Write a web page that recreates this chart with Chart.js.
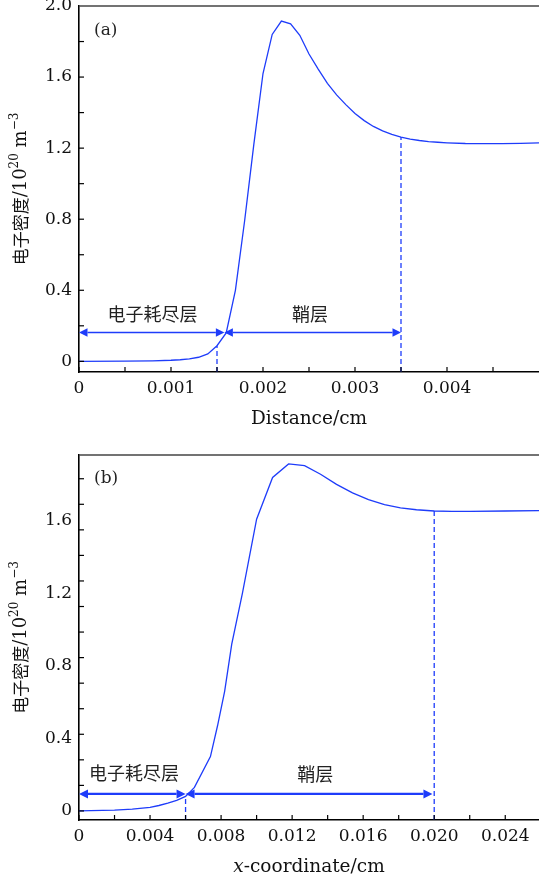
<!DOCTYPE html>
<html>
<head>
<meta charset="utf-8">
<script src="https://cdn.jsdelivr.net/npm/chart.js@4.4.1/dist/chart.umd.min.js"></script>
<style>
  body { margin: 0; background: #fff; }
  canvas { display: block; }
</style>
</head>
<body>
<canvas id="chartA" width="539" height="440"></canvas>
<canvas id="chartB" width="539" height="439"></canvas>
<script>
// (a) electron density vs Distance
const distA = [0, 0.0005, 0.0008, 0.001, 0.0011, 0.0012, 0.0013, 0.0014, 0.0015, 0.0016, 0.0017, 0.0018, 0.0019,
  0.002, 0.0021, 0.0022, 0.0023, 0.0024, 0.0025, 0.0026, 0.0027, 0.0028, 0.0029, 0.003, 0.0031, 0.0032, 0.0033,
  0.0034, 0.0035, 0.0036, 0.0037, 0.0038, 0.0039, 0.004, 0.0042, 0.0044, 0.0046, 0.0048, 0.005];
const densA = [0, 0.001, 0.003, 0.006, 0.009, 0.014, 0.023, 0.042, 0.088, 0.16, 0.40, 0.79, 1.22,
  1.62, 1.84, 1.915, 1.90, 1.835, 1.73, 1.645, 1.565, 1.50, 1.445, 1.395, 1.355, 1.322, 1.297,
  1.277, 1.262, 1.251, 1.243, 1.237, 1.233, 1.23, 1.226, 1.225, 1.225, 1.227, 1.23];
const xTicksA = [0, 0.001, 0.002, 0.003, 0.004];
const xLabelsA = ['0', '0.001', '0.002', '0.003', '0.004'];
const xMarksA = [0, 0.0005, 0.001, 0.0015, 0.002, 0.0025, 0.003, 0.0035, 0.004, 0.0045];
const yTicksA = [0, 0.4, 0.8, 1.2, 1.6, 2.0];
const yLabelsA = ['0', '0.4', '0.8', '1.2', '1.6', '2.0'];
const yMarksA = [0, 0.2, 0.4, 0.6, 0.8, 1.0, 1.2, 1.4, 1.6, 1.8];
const dashA = [0.0015, 0.0035];
const arrowsA = [[0, 0.00158, 0.162], [0.00158, 0.0035, 0.162]];
const notesA = [['电子耗尽层', 0.0008, 0.266], ['鞘层', 0.00251, 0.266]];

// (b) electron density vs x-coordinate
const coordB = [0, 0.002, 0.003, 0.004, 0.0045, 0.005, 0.0055, 0.006, 0.0065, 0.0074, 0.0078, 0.0082, 0.0086,
  0.0092, 0.0100, 0.0109, 0.0118, 0.0127, 0.0136, 0.0145, 0.0154, 0.0163, 0.0172, 0.0181, 0.0190, 0.0200,
  0.0210, 0.0220, 0.0240, 0.0260];
const densB = [0, 0.004, 0.01, 0.02, 0.03, 0.043, 0.058, 0.08, 0.13, 0.30, 0.47, 0.66, 0.92,
  1.20, 1.61, 1.84, 1.915, 1.905, 1.858, 1.802, 1.755, 1.718, 1.69, 1.672, 1.662, 1.655,
  1.653, 1.653, 1.655, 1.657];
const xTicksB = [0, 0.004, 0.008, 0.012, 0.016, 0.020, 0.024];
const xLabelsB = ['0', '0.004', '0.008', '0.012', '0.016', '0.020', '0.024'];
const xMarksB = [0, 0.002, 0.004, 0.006, 0.008, 0.010, 0.012, 0.014, 0.016, 0.018, 0.020, 0.022, 0.024];
const yTicksB = [0, 0.4, 0.8, 1.2, 1.6];
const yLabelsB = ['0', '0.4', '0.8', '1.2', '1.6'];
const yMarksB = [0, 0.141, 0.282, 0.423, 0.564, 0.705, 0.846, 0.987, 1.128, 1.269, 1.41, 1.551, 1.692, 1.833];
const dashB = [0.006, 0.020];
const arrowsB = [[0, 0.006, 0.094], [0.006, 0.0199, 0.094]];
const notesB = [['电子耗尽层', 0.0031, 0.208], ['鞘层', 0.0133, 0.204]];

const BLUE = 'rgb(30,60,250)';
const SERIF = '"DejaVu Serif", serif';
const CJK = '"Noto Sans CJK SC", sans-serif';

function drawRuns(ctx, runs, cx, cy, rotate) {
  ctx.save();
  ctx.translate(cx, cy);
  if (rotate) ctx.rotate(-Math.PI / 2);
  let total = 0;
  runs.forEach(r => { ctx.font = r.f; r.w = ctx.measureText(r.t).width; total += r.w; });
  let x = -total / 2;
  ctx.textBaseline = 'alphabetic';
  ctx.textAlign = 'left';
  runs.forEach(r => { ctx.font = r.f; ctx.fillText(r.t, x, r.dy || 0); x += r.w; });
  ctx.restore();
}

function makeChart(id, c) {
  const extras = {
    id: 'extras',
    afterDraw(chart) {
      const { ctx, chartArea: a, scales: { x, y } } = chart;
      ctx.save();
      ctx.strokeStyle = '#444';
      ctx.lineWidth = 1.5;
      ctx.beginPath(); ctx.moveTo(a.left, a.top); ctx.lineTo(a.right, a.top); ctx.stroke();

      ctx.strokeStyle = '#000';
      ctx.lineWidth = 1.2;
      c.xMarks.forEach(v => {
        const p = x.getPixelForValue(v);
        ctx.beginPath(); ctx.moveTo(p, a.bottom); ctx.lineTo(p, a.bottom - 5); ctx.stroke();
      });
      c.yMarks.forEach(v => {
        const p = y.getPixelForValue(v);
        ctx.beginPath(); ctx.moveTo(a.left, p); ctx.lineTo(a.left + 5, p); ctx.stroke();
      });

      // double headed arrows
      ctx.strokeStyle = BLUE;
      ctx.fillStyle = BLUE;
      ctx.lineWidth = c.arrowWidth;
      const hl = c.head, hw = c.head / 2;
      c.arrows.forEach(([v0, v1, vy]) => {
        const x0 = x.getPixelForValue(v0), x1 = x.getPixelForValue(v1), py = y.getPixelForValue(vy);
        ctx.beginPath(); ctx.moveTo(x0 + hl, py); ctx.lineTo(x1 - hl, py); ctx.stroke();
        ctx.beginPath(); ctx.moveTo(x0, py); ctx.lineTo(x0 + hl, py - hw); ctx.lineTo(x0 + hl, py + hw); ctx.closePath(); ctx.fill();
        ctx.beginPath(); ctx.moveTo(x1, py); ctx.lineTo(x1 - hl, py - hw); ctx.lineTo(x1 - hl, py + hw); ctx.closePath(); ctx.fill();
      });

      ctx.fillStyle = '#222';
      ctx.font = '18px ' + CJK;
      ctx.textAlign = 'center';
      ctx.textBaseline = 'middle';
      c.notes.forEach(([t, vx, vy]) => ctx.fillText(t, x.getPixelForValue(vx), y.getPixelForValue(vy)));

      ctx.font = '17px ' + SERIF;
      ctx.textAlign = 'left';
      ctx.fillText(c.tag, a.left + 15, a.top + c.tagDy);

      // axis titles
      ctx.fillStyle = '#111';
      drawRuns(ctx, c.xTitle, (a.left + a.right) / 2, c.xTitleY, false);
      drawRuns(ctx, [
        { t: '电子密度', f: '17px ' + CJK, dy: 1 },
        { t: '/10', f: '18px ' + SERIF },
        { t: '20', f: '12px ' + SERIF, dy: -8 },
        { t: ' m', f: '18px ' + SERIF },
        { t: '−3', f: '12px ' + SERIF, dy: -8 }
      ], 26, (a.top + a.bottom) / 2, true);
      ctx.restore();
    }
  };

  const datasets = [{
    data: c.xs.map((v, i) => ({ x: v, y: c.ys[i] })),
    borderColor: BLUE, borderWidth: 1.3, pointRadius: 0, tension: 0
  }];
  c.dash.forEach(d => {
    datasets.push({
      data: [{ x: d, y: c.yMin }, { x: d, y: c.ys[c.xs.indexOf(d)] }],
      borderColor: BLUE, borderWidth: 1.3, borderDash: [5, 3], pointRadius: 0
    });
  });

  return new Chart(document.getElementById(id), {
    type: 'line',
    data: { datasets },
    plugins: [extras],
    options: {
      responsive: false,
      devicePixelRatio: 1,
      animation: false,
      layout: { padding: { top: c.top, right: 0, left: 0, bottom: 0 } },
      plugins: { legend: { display: false }, tooltip: { enabled: false } },
      scales: {
        x: {
          type: 'linear', min: 0, max: c.xMax,
          grid: { display: false, drawTicks: false },
          border: { display: true, color: '#000', width: 1.6 },
          afterBuildTicks: s => { s.ticks = c.xTicks.map(v => ({ value: v })); },
          ticks: {
            autoSkip: false, maxRotation: 0, padding: 6, color: '#111',
            font: { family: SERIF, size: 17 },
            callback: (v, i) => c.xLabels[i]
          },
          afterFit: s => { s.height = c.xH; s.paddingLeft = 0; s.paddingRight = 0; }
        },
        y: {
          type: 'linear', min: c.yMin, max: c.yMax,
          grid: { display: false, drawTicks: false },
          border: { display: true, color: '#000', width: 1.6 },
          afterBuildTicks: s => { s.ticks = c.yTicks.map(v => ({ value: v })); },
          ticks: {
            autoSkip: false, padding: 7, color: '#111',
            font: { family: SERIF, size: 17 },
            callback: (v, i) => c.yLabels[i]
          },
          afterFit: s => { s.width = 79; s.paddingTop = 0; s.paddingBottom = 0; }
        }
      }
    }
  });
}

makeChart('chartA', {
  xs: distA, ys: densA, xMax: 0.005, yMin: -0.06, yMax: 2.0,
  xTicks: xTicksA, xLabels: xLabelsA, xMarks: xMarksA,
  yTicks: yTicksA, yLabels: yLabelsA, yMarks: yMarksA,
  dash: dashA, arrows: arrowsA, notes: notesA, arrowWidth: 1.5, head: 8.5,
  top: 6, xH: 68, tag: '(a)', tagDy: 25, xTitleY: 424,
  xTitle: [{ t: 'Distance/cm', f: '18.5px ' + SERIF }]
});

makeChart('chartB', {
  xs: coordB, ys: densB, xMax: 0.0259, yMin: -0.05, yMax: 1.964,
  xTicks: xTicksB, xLabels: xLabelsB, xMarks: xMarksB,
  yTicks: yTicksB, yLabels: yLabelsB, yMarks: yMarksB,
  dash: dashB, arrows: arrowsB, notes: notesB, arrowWidth: 2.2, head: 9,
  top: 15, xH: 59, tag: '(b)', tagDy: 24, xTitleY: 432,
  xTitle: [{ t: 'x', f: 'italic 18.5px ' + SERIF }, { t: '-coordinate/cm', f: '18.5px ' + SERIF }]
});
</script>
</body>
</html>
